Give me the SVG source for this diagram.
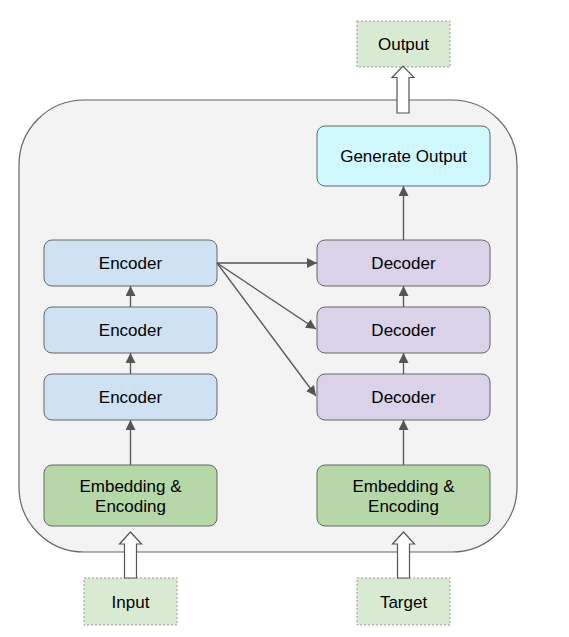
<svg xmlns="http://www.w3.org/2000/svg" width="569" height="637" viewBox="0 0 569 637">
<defs>
<marker id="ah" viewBox="0 0 10 10" refX="10" refY="5" markerWidth="10" markerHeight="10" markerUnits="userSpaceOnUse" orient="auto">
<path d="M0,0 L10,5 L0,10 z" fill="#555"/>
</marker>
<style>
.box{stroke:#666;stroke-width:1}
.enc{fill:#cfe2f3}
.dec{fill:#d9d2e9}
.emb{fill:#b6d7a8}
.gen{fill:#d0f9ff}
.io{fill:#d9ead3;stroke:#999;stroke-width:1;stroke-dasharray:2 2}
.t{font-family:"Liberation Sans",Arial,sans-serif;font-size:17px;fill:#000;text-anchor:middle}
.c{stroke:#555;stroke-width:1.3;fill:none;marker-end:url(#ah)}
.hol{fill:#fff;stroke:#555;stroke-width:1.2}
</style>
</defs>
<rect width="569" height="637" fill="#fff"/>
<g id="container">
<rect x="19" y="100" width="498" height="452" rx="65" ry="65" fill="#f3f3f3" stroke="#666" stroke-width="1.2"/>
</g>
<g id="output">
<rect class="io" x="357" y="21" width="93" height="46"/>
<text class="t" x="403.5" y="50">Output</text>
</g>
<g id="input">
<rect class="io" x="84" y="578" width="93" height="47"/>
<text class="t" x="130.5" y="608">Input</text>
</g>
<g id="target">
<rect class="io" x="357" y="578" width="93" height="47"/>
<text class="t" x="403.5" y="608">Target</text>
</g>
<g id="generate">
<rect class="box gen" x="317" y="126" width="173" height="60" rx="8"/>
<text class="t" x="403.5" y="162">Generate Output</text>
</g>
<g id="encoder3">
<rect class="box enc" x="44" y="240" width="173" height="46" rx="8"/>
<text class="t" x="130.5" y="269">Encoder</text>
</g>
<g id="encoder2">
<rect class="box enc" x="44" y="307" width="173" height="46" rx="8"/>
<text class="t" x="130.5" y="336">Encoder</text>
</g>
<g id="encoder1">
<rect class="box enc" x="44" y="374" width="173" height="46" rx="8"/>
<text class="t" x="130.5" y="403">Encoder</text>
</g>
<g id="decoder3">
<rect class="box dec" x="317" y="240" width="173" height="46" rx="8"/>
<text class="t" x="403.5" y="269">Decoder</text>
</g>
<g id="decoder2">
<rect class="box dec" x="317" y="307" width="173" height="46" rx="8"/>
<text class="t" x="403.5" y="336">Decoder</text>
</g>
<g id="decoder1">
<rect class="box dec" x="317" y="374" width="173" height="46" rx="8"/>
<text class="t" x="403.5" y="403">Decoder</text>
</g>
<g id="embed-enc">
<rect class="box emb" x="44" y="465" width="173" height="61" rx="8"/>
<text class="t" x="130.5" y="492">Embedding &amp;</text>
<text class="t" x="130.5" y="512">Encoding</text>
</g>
<g id="embed-dec">
<rect class="box emb" x="317" y="465" width="173" height="61" rx="8"/>
<text class="t" x="403.5" y="492">Embedding &amp;</text>
<text class="t" x="403.5" y="512">Encoding</text>
</g>
<g id="connectors">
<line class="c" x1="130.5" y1="465" x2="130.5" y2="420"/>
<line class="c" x1="130.5" y1="374" x2="130.5" y2="353"/>
<line class="c" x1="130.5" y1="307" x2="130.5" y2="286"/>
<line class="c" x1="403.5" y1="465" x2="403.5" y2="420"/>
<line class="c" x1="403.5" y1="374" x2="403.5" y2="353"/>
<line class="c" x1="403.5" y1="307" x2="403.5" y2="286"/>
<line class="c" x1="403.5" y1="240" x2="403.5" y2="186"/>
<line class="c" x1="217" y1="263" x2="317" y2="263"/>
<line class="c" x1="217" y1="263" x2="316" y2="329"/>
<line class="c" x1="217" y1="263" x2="316" y2="396"/>
<path class="hol" d="M397,113 L397,77.5 L392,77.5 L403,66 L414,77.5 L409,77.5 L409,113 Z"/>
<path class="hol" d="M124.5,578 L124.5,544 L119.5,544 L130.5,532 L141.5,544 L136.5,544 L136.5,578 Z"/>
<path class="hol" d="M397.5,578 L397.5,544 L392.5,544 L403.5,532 L414.5,544 L409.5,544 L409.5,578 Z"/>
</g>
</svg>
